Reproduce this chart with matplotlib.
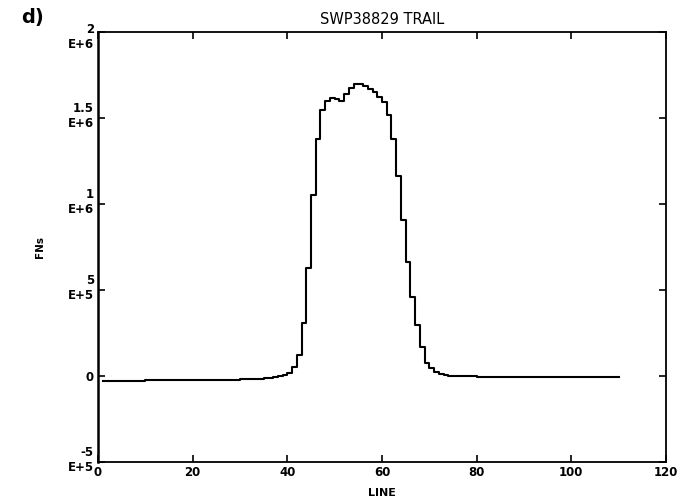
import matplotlib
matplotlib.use('AGG')
import matplotlib.pyplot as plt
from matplotlib.transforms import ScaledTranslation

# start of each step (scan line) and its flux value in units of 1E+6
line_x = [1, 10, 20, 30, 35, 37, 38, 39, 40, 41, 42, 43, 44, 45, 46, 47, 48,
          49, 50, 51, 52, 53, 54, 55, 56, 57, 58, 59, 60, 61, 62, 63, 64, 65,
          66, 67, 68, 69, 70, 71, 72, 73, 74, 80, 110]
fns_m = [-0.028, -0.026, -0.023, -0.019, -0.013, -0.008, -0.002, 0.005, 0.017,
         0.052, 0.122, 0.308, 0.628, 1.052, 1.378, 1.547, 1.600, 1.615, 1.610,
         1.600, 1.640, 1.675, 1.695, 1.695, 1.685, 1.670, 1.650, 1.625, 1.595,
         1.520, 1.378, 1.163, 0.907, 0.665, 0.461, 0.297, 0.170, 0.077, 0.047,
         0.025, 0.012, 0.005, 0.0, -0.005, -0.005]

x_ticks = [0, 20, 40, 60, 80, 100, 120]
y_ticks = [-0.5, 0, 0.5, 1.0, 1.5, 2.0]
y_ticklabels = ['-5\nE+5', '0', '5\nE+5', '1\nE+6', '1.5\nE+6', '2\nE+6']

fig = plt.figure(figsize=(6.91, 5.04), dpi=100)
ax = fig.add_axes([0.1418, 0.0833, 0.822, 0.8532])

ax.step(line_x, fns_m, where='post', color='black', linewidth=1.5)

ax.set_xlim(0, 120)
ax.set_ylim(-0.5, 2.0)
ax.set_xticks(x_ticks)
ax.set_yticks(y_ticks)
ax.set_yticklabels(y_ticklabels, linespacing=1.2)

ax.tick_params(direction='in', length=5, width=1.2, top=True, right=True,
               labelsize=8.5, pad=3)
for lab in ax.get_xticklabels() + ax.get_yticklabels():
    lab.set_fontweight('bold')
# nudge the two-line labels: most sit a little above their tick, the top one below
for lab in ax.get_yticklabels():
    txt = lab.get_text()
    if '\n' in txt:
        dy = -1.8 if txt.startswith('2') else 3.2
        lab.set_transform(lab.get_transform() +
                          ScaledTranslation(0, dy / 72, fig.dpi_scale_trans))

for side in ['left', 'right', 'top', 'bottom']:
    ax.spines[side].set_linewidth(1.3)
ax.spines['left'].set_linewidth(1.8)

ax.set_title('SWP38829 TRAIL', fontsize=10.5, pad=6)
ax.set_xlabel('LINE', fontsize=8, fontweight='bold', labelpad=6)
ax.set_ylabel('FNs', fontsize=7.5, fontweight='bold', labelpad=16)

fig.text(0.03, 0.955, 'd)', fontsize=14, fontweight='bold')

plt.savefig('out.png', dpi=100)
